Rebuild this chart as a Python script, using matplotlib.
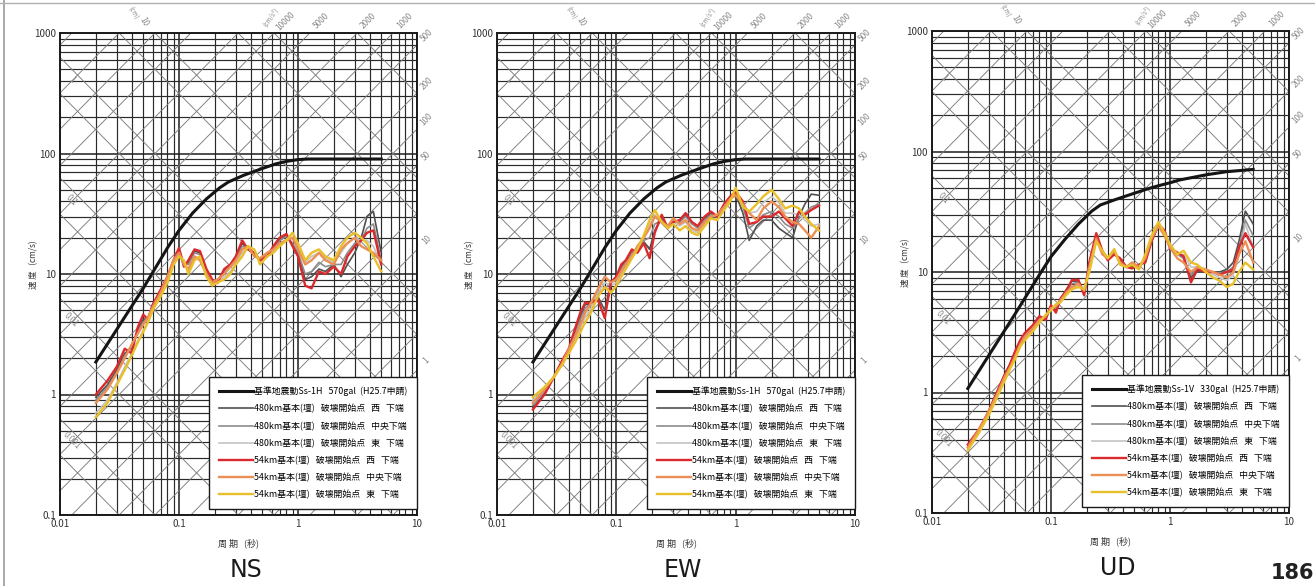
import numpy as np
import matplotlib
matplotlib.use("Agg")
import matplotlib.pyplot as plt
from matplotlib.lines import Line2D
from matplotlib.ticker import FixedLocator, FixedFormatter, LogLocator, NullFormatter

plt.rcParams['font.family'] = ['Noto Sans CJK JP', 'DejaVu Sans']

# periods (s) shared by all computed spectra
periods = [0.02, 0.025, 0.03, 0.035, 0.04, 0.045, 0.05, 0.055, 0.06, 0.07,
           0.08, 0.09, 0.1, 0.11, 0.12, 0.135, 0.15, 0.17, 0.19, 0.21,
           0.24, 0.27, 0.3, 0.34, 0.38, 0.43, 0.48, 0.55, 0.62, 0.7,
           0.8, 0.9, 1.0, 1.15, 1.3, 1.5, 1.7, 2.0, 2.3, 2.6,
           3.0, 3.4, 3.8, 4.3, 5.0]

# design spectra Ss-1H / Ss-1V (cm/s)
ref_periods = [0.02, 0.05, 0.08, 0.1, 0.13, 0.17, 0.22, 0.26, 0.35, 0.5,
               0.65, 0.8, 1.0, 1.2, 2.0, 3.0, 5.0]
ref_ns = [1.86, 7.6, 16.5, 23, 32, 42, 52, 58, 66, 75, 82, 86, 89, 90, 90, 90, 90]
ref_ew = [1.86, 7.6, 16.5, 23, 32, 42, 52, 58, 66, 75, 82, 86, 89, 90, 90, 90, 90]
ref_ud = [1.08, 4.5, 9.5, 13.4, 18.5, 25, 32, 36, 40, 45, 49, 52, 55, 58, 64, 68, 71]

# NS
ns_480_w = [0.95, 1.2, 1.6, 2.2, 2.4, 3.4, 4.2, 4.3, 5.6, 7.2, 9.5, 12.5, 16, 12, 12.5,
            15.5, 15, 10.5, 9, 8.6, 10.5, 11.5, 13.5, 18, 16, 14.5, 13, 14, 16.5, 19,
            21, 17.5, 14.5, 9, 9.5, 11, 10.5, 12, 9.5, 12, 15, 20, 30, 33, 15]
ns_480_c = [0.9, 1.15, 1.5, 2.1, 2.5, 3.3, 4.0, 4.3, 5.4, 7.0, 9.5, 12.5, 15.5, 12, 12,
            15, 14.5, 10.5, 9, 8.8, 10.5, 11.5, 13.5, 17, 16.5, 14.5, 13, 14.5, 16.5, 19,
            20.5, 18, 15, 10, 10.5, 12.5, 11.5, 12, 12, 15, 18, 19, 24, 26, 13]
ns_480_e = [0.7, 0.9, 1.25, 1.7, 2.2, 2.8, 3.4, 4.0, 5.0, 6.8, 9.0, 12, 14.5, 12.5, 10.5,
            13.5, 14, 10, 8.2, 8.5, 9.5, 10.5, 12.5, 15, 16.5, 15, 12.5, 14, 15.5, 17.5,
            19.5, 20, 17, 12.5, 14, 15, 13.5, 12.5, 15, 18, 20, 19, 19, 17, 12]
ns_54_w = [1.0, 1.3, 1.7, 2.4, 2.2, 3.6, 4.6, 4.2, 5.5, 7.4, 9.5, 13, 16.5, 11.5, 13,
           16, 15.5, 11, 9, 8.4, 11, 12, 14, 19, 16, 15, 13, 14, 17, 20,
           21.5, 17, 14, 8, 7.6, 10.5, 10, 11.5, 10, 14, 17, 19, 22, 23, 12]
ns_54_c = [0.85, 1.1, 1.5, 2.0, 2.6, 3.2, 3.8, 4.4, 5.3, 7.0, 9.5, 13, 15, 12, 11,
           14, 13, 10, 8.5, 9, 10, 11.5, 13, 16, 17, 14, 13.5, 15, 16, 18,
           19, 20, 16, 12, 13, 15, 13, 12, 16, 18, 20, 17, 16, 15, 13]
ns_54_e = [0.65, 0.85, 1.2, 1.6, 2.1, 2.7, 3.3, 4.0, 5.0, 6.5, 8.5, 12, 14, 13, 10,
           13, 14, 9.5, 8, 8.5, 9, 10, 12, 14, 17, 16, 12, 14, 15, 17,
           19, 22, 18, 13, 15, 16, 14, 13, 17, 20, 22, 20, 18, 14, 10.5]

# EW
ew_480_w = [0.78, 1.0, 1.4, 1.85, 2.4, 3.4, 4.5, 5.6, 5.6, 6.5, 5.0, 8.5, 9.5, 11.5, 13,
            15.5, 15.5, 18.5, 16, 23, 29, 25, 27, 28, 31, 27, 25, 29, 32, 30,
            37, 43, 46, 32, 19, 25, 28, 28, 24, 22, 20, 30, 38, 46, 45]
ew_480_c = [0.82, 1.05, 1.4, 1.85, 2.4, 3.2, 4.2, 5.2, 5.6, 7.0, 7.5, 8.5, 9.2, 11, 12.5,
            15, 16, 19, 20, 26, 28, 25, 28, 27, 30, 26, 24, 28, 31, 30,
            37, 43, 46, 36, 24, 27, 31, 33, 30, 26, 24, 29, 32, 36, 38]
ew_480_e = [0.9, 1.1, 1.4, 1.8, 2.3, 2.9, 3.6, 4.4, 5.0, 7.0, 8.5, 8.0, 8.5, 10, 11.5,
            14, 16.5, 20, 26, 31, 27, 25, 27, 25, 27, 23, 22, 26, 30, 30,
            35, 41, 48, 37, 32, 33, 39, 44, 39, 32, 32, 31, 28, 25, 26]
ew_54_w = [0.75, 1.0, 1.4, 1.9, 2.4, 3.5, 4.8, 5.8, 5.7, 6.2, 4.3, 8.5, 9.5, 12, 13,
           16, 15, 18, 13.5, 22, 31, 24, 27, 28, 32, 27, 25, 30, 33, 30,
           38, 44, 48, 40, 26, 27, 30, 30, 33, 29, 25, 33, 31, 34, 37]
ew_54_c = [0.85, 1.1, 1.4, 1.8, 2.4, 3.0, 3.8, 4.8, 5.5, 7.5, 9.5, 8.5, 9.0, 10.5, 12,
           14, 17, 20, 24, 30, 27, 25, 29, 26, 28, 24, 23, 27, 30, 31,
           36, 42, 45, 38, 32, 28, 35, 40, 36, 30, 27, 26, 23, 20, 25]
ew_54_e = [0.95, 1.15, 1.4, 1.75, 2.2, 2.7, 3.3, 4.0, 4.6, 6.5, 7.8, 7.0, 8.0, 9.5, 11,
           13.5, 16, 21, 28, 34, 27, 24, 26, 23, 25, 22, 21, 25, 29, 28,
           34, 40, 52, 36, 33, 38, 44, 50, 42, 35, 37, 35, 30, 26, 23]

# UD
ud_480_w = [0.36, 0.5, 0.7, 1.0, 1.35, 1.7, 2.2, 2.7, 3.0, 3.5, 4.2, 4.2, 5.2, 4.8, 6.0,
            7.2, 8.4, 8.4, 6.8, 12, 20, 15, 13, 14, 13, 11, 11, 11.5, 12.5, 18,
            24, 22, 16, 14.5, 13, 9, 10.5, 10, 10, 10, 10.5, 12, 18, 32, 25]
ud_480_c = [0.35, 0.5, 0.7, 0.98, 1.3, 1.65, 2.1, 2.6, 2.95, 3.5, 4.1, 4.2, 5.1, 5.0, 5.9,
            7.0, 8.0, 8.2, 6.8, 11.5, 19.5, 14.5, 13, 14.5, 12.5, 11, 11.5, 11.2, 12.5, 18.5,
            24.5, 21, 16, 14, 13, 9.5, 10.5, 10.2, 10, 9.8, 10, 11, 16, 27, 20]
ud_480_e = [0.34, 0.48, 0.67, 0.92, 1.25, 1.6, 1.95, 2.45, 2.8, 3.3, 3.9, 4.3, 4.9, 5.3, 5.7,
            6.6, 7.4, 7.8, 7.1, 10.5, 18.5, 15, 13, 15, 12, 11, 12, 11, 13.5, 19.5,
            25, 21, 16.5, 14, 14, 11, 11, 10.2, 9.5, 9, 8.5, 9.5, 14, 25, 16]
ud_54_w = [0.37, 0.5, 0.7, 1.0, 1.35, 1.7, 2.2, 2.7, 3.1, 3.6, 4.3, 4.0, 5.3, 4.6, 6.0,
           7.0, 8.6, 8.6, 6.4, 12, 21, 15, 12.5, 14, 13, 11, 10.7, 11.5, 12, 18,
           25, 22, 15.7, 14.5, 13.5, 8.2, 10.5, 10, 10, 9.5, 10, 10.5, 16, 21, 16]
ud_54_c = [0.35, 0.5, 0.7, 0.95, 1.3, 1.6, 2.0, 2.5, 2.9, 3.4, 4.0, 4.3, 5.0, 5.2, 5.8,
           6.8, 7.5, 8.0, 7.0, 11, 19, 14, 13, 15, 12, 11, 12, 11, 13, 19,
           24, 20, 16, 13, 12, 10, 11, 10.5, 10, 9.5, 9, 10, 14, 18, 12]
ud_54_e = [0.33, 0.47, 0.65, 0.9, 1.2, 1.55, 1.9, 2.4, 2.7, 3.2, 3.8, 4.4, 4.8, 5.4, 5.6,
           6.5, 7.2, 7.5, 7.2, 10, 18, 15, 13, 15.5, 11.5, 11, 11.5, 10.5, 14, 20,
           26, 21, 17, 14, 15, 12, 11.5, 10, 9, 8.5, 7.5, 8, 10, 12, 10.5]

case_labels = ["480km基本(壇)   破壊開始点   西   下端",
               "480km基本(壇)   破壊開始点   中央下端",
               "480km基本(壇)   破壊開始点   東   下端",
               "54km基本(壇)   破壊開始点   西   下端",
               "54km基本(壇)   破壊開始点   中央下端",
               "54km基本(壇)   破壊開始点   東   下端"]
case_colors = ["#505050", "#8c8c8c", "#c4c4c4", "#d92a2e", "#eb8f55", "#e9bf2c"]
case_widths = [1.2, 1.2, 1.2, 1.7, 1.7, 1.7]

y_ticks = [0.1, 1, 10, 100, 1000]
y_tick_labels = ["0.1", "1", "10", "100", "1000"]
x_ticks = [0.01, 0.1, 1, 10]
x_tick_labels = ["0.01", "0.1", "1", "10"]

acc_lines = [m * 10.0 ** k for k in range(-1, 6) for m in (1, 2, 5)]
disp_lines = [m * 10.0 ** k for k in range(-4, 3) for m in (1, 5)]
acc_right_labels = [500, 200, 100, 50, 10, 1]
acc_top_labels = [10000, 5000, 2000, 1000]
disp_left_labels = [1, 0.1, 0.01, 0.001]

TWO_PI = 2 * np.pi
DIAG = "#7c7c7c"


def tripartite(ax):
    ax.set_xscale("log")
    ax.set_yscale("log")
    ax.set_xlim(0.01, 10)
    ax.set_ylim(0.1, 1000)
    ax.autoscale(False)
    ax.xaxis.set_major_locator(FixedLocator(x_ticks))
    ax.xaxis.set_major_formatter(FixedFormatter(x_tick_labels))
    ax.yaxis.set_major_locator(FixedLocator(y_ticks))
    ax.yaxis.set_major_formatter(FixedFormatter(y_tick_labels))
    for axis in (ax.xaxis, ax.yaxis):
        axis.set_minor_locator(LogLocator(base=10, subs=np.arange(2, 10)))
        axis.set_minor_formatter(NullFormatter())
    ax.tick_params(which="both", length=0, labelsize=7, colors="#333333", pad=3)
    ax.grid(which="major", color="#1e1e1e", lw=1.1)
    ax.grid(which="minor", color="#2a2a2a", lw=0.85)
    ax.set_axisbelow(True)
    for s in ax.spines.values():
        s.set_linewidth(1.4)
        s.set_color("#1a1a1a")

    t = np.array([0.01, 10.0])
    for a in acc_lines:
        ax.plot(t, a * t / TWO_PI, color=DIAG, lw=0.65, zorder=1)
    for d in disp_lines:
        ax.plot(t, TWO_PI * d / t, color=DIAG, lw=0.65, zorder=1)

    lab = dict(color="#8a8a8a", fontsize=6, rotation=45, ha="center",
               va="center", clip_on=False)
    for a in acc_right_labels:
        tt = 12.0
        ax.text(tt, a * tt / TWO_PI, str(a), **lab)
    for a in acc_top_labels:
        sv = 1250.0
        ax.text(TWO_PI * sv / a, sv, str(a), **lab)
    ax.text(TWO_PI * 1300.0 / 10000 * 0.72, 1350.0, "(cm/s²)",
            **dict(lab, fontsize=4.5, rotation=55))
    ax.text(TWO_PI * 10 / 1250.0, 1250.0, "10", **dict(lab, rotation=-60))
    ax.text(TWO_PI * 10 / 1250.0 * 0.82, 1450.0, "(cm)",
            **dict(lab, fontsize=4.5, rotation=-60))
    for d in disp_left_labels:
        tt = 0.0125
        ax.text(tt, TWO_PI * d / tt * 0.82, str(d), **dict(lab, rotation=-45))


def panel(ax, ref, ref_label, cases, title):
    tripartite(ax)
    handles = []
    h, = ax.plot(ref_periods, ref, color="#151515", lw=2.2, zorder=5)
    handles.append(h)
    for vals, col, lw in zip(cases, case_colors, case_widths):
        h, = ax.plot(periods, vals, color=col, lw=lw, zorder=4)
        handles.append(h)
    leg = ax.legend(handles, [ref_label] + case_labels, loc="lower right",
                    bbox_to_anchor=(1.0, 0.012), borderaxespad=0,
                    fontsize=6.4, handlelength=3.8, handletextpad=0.1,
                    labelspacing=0.88, borderpad=1.1, fancybox=False,
                    framealpha=1, edgecolor="#1a1a1a")
    leg.get_frame().set_linewidth(1.0)
    leg.set_zorder(10)
    ax.text(-0.075, 0.52, "速 度   (cm/s)", transform=ax.transAxes, rotation=90,
            ha="center", va="center", fontsize=6, color="#333333")
    ax.text(0.5, -0.058, "周 期   (秒)", transform=ax.transAxes,
            ha="center", va="center", fontsize=6.5, color="#333333")
    ax.text(0.52, -0.114, title, transform=ax.transAxes,
            ha="center", va="center", fontsize=17, color="#1a1a1a",
            family=["DejaVu Sans"])


fig = plt.figure(figsize=(13.15, 5.86), dpi=100)
ax_ns = fig.add_axes([60 / 1315, 1 - 515 / 586, 357 / 1315, 482 / 586])
ax_ew = fig.add_axes([497 / 1315, 1 - 515 / 586, 358 / 1315, 482 / 586])
ax_ud = fig.add_axes([932 / 1315, 1 - 513 / 586, 357 / 1315, 482 / 586])

label_h = "基準地震動Ss-1H   570gal  (H25.7申請)"
label_v = "基準地震動Ss-1V   330gal  (H25.7申請)"
panel(ax_ns, ref_ns, label_h,
      [ns_480_w, ns_480_c, ns_480_e, ns_54_w, ns_54_c, ns_54_e], "NS")
panel(ax_ew, ref_ew, label_h,
      [ew_480_w, ew_480_c, ew_480_e, ew_54_w, ew_54_c, ew_54_e], "EW")
panel(ax_ud, ref_ud, label_v,
      [ud_480_w, ud_480_c, ud_480_e, ud_54_w, ud_54_c, ud_54_e], "UD")

# page edge and page number
fig.add_artist(Line2D([4 / 1315, 4 / 1315], [0, 1], color="#9a9a9a", lw=1.2))
fig.add_artist(Line2D([0, 1], [1 - 3 / 586, 1 - 3 / 586], color="#b0b0b0", lw=1.0))
fig.text(1271 / 1315, 1 - 573 / 586, "186", fontsize=15, fontweight="bold",
         ha="left", va="center", color="#222222", family=["DejaVu Sans"])

fig.savefig("out.png", dpi=100)
